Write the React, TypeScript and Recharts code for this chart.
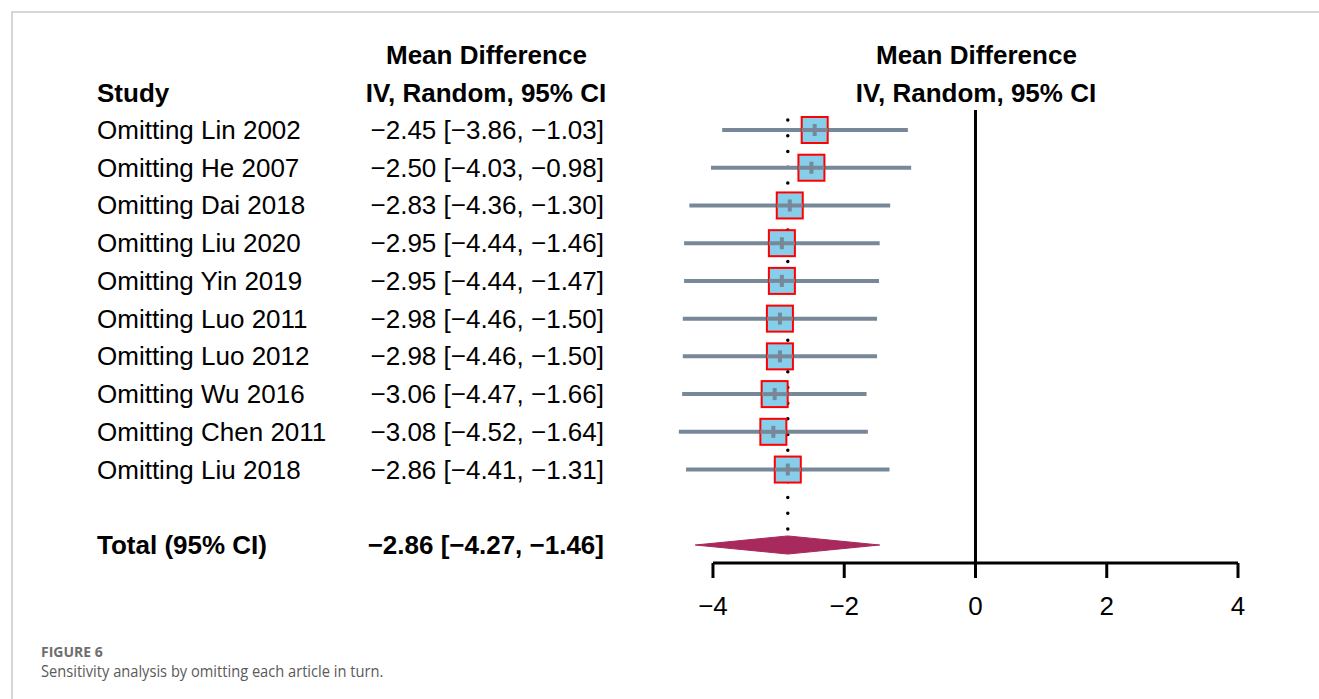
import React from 'react';
import {
  ComposedChart,
  Scatter,
  Area,
  ErrorBar,
  XAxis,
  YAxis,
  ReferenceLine,
} from 'recharts';

// ---- data ----
const studies = [
  'Omitting Lin 2002',
  'Omitting He 2007',
  'Omitting Dai 2018',
  'Omitting Liu 2020',
  'Omitting Yin 2019',
  'Omitting Luo 2011',
  'Omitting Luo 2012',
  'Omitting Wu 2016',
  'Omitting Chen 2011',
  'Omitting Liu 2018',
];
const means = [-2.45, -2.5, -2.83, -2.95, -2.95, -2.98, -2.98, -3.06, -3.08, -2.86];
const lowers = [-3.86, -4.03, -4.36, -4.44, -4.44, -4.46, -4.46, -4.47, -4.52, -4.41];
const uppers = [-1.03, -0.98, -1.3, -1.46, -1.47, -1.5, -1.5, -1.66, -1.64, -1.31];

const totalLabel = 'Total (95% CI)';
const totalMean = -2.86;
const totalLower = -4.27;
const totalUpper = -1.46;

const xTicks = [-4, -2, 0, 2, 4];
const headerTop = 'Mean Difference';
const headerBottom = 'IV, Random, 95% CI';
const studyHeader = 'Study';
const figureLabel = 'FIGURE 6';
const caption = 'Sensitivity analysis by omitting each article in turn.';

// ---- derived ----
const fmt = (v: number) => {
  const s = Math.abs(v).toFixed(2);
  return v < 0 ? '\u2212' + s : s;
};
const ciText = (m: number, l: number, u: number) => `${fmt(m)} [${fmt(l)}, ${fmt(u)}]`;

const totalRow = studies.length + 1;
const rows = studies.map((name, i) => ({
  row: i,
  name,
  mean: means[i],
  err: [means[i] - lowers[i], uppers[i] - means[i]],
  text: ciText(means[i], lowers[i], uppers[i]),
}));
const rowTicks = [...rows.map((r) => r.row), totalRow];
const labelFor = (row: number) => {
  if (row === totalRow) return { name: totalLabel, text: ciText(totalMean, totalLower, totalUpper), bold: true };
  const r = rows.find((d) => d.row === row);
  return r ? { name: r.name, text: r.text, bold: false } : { name: '', text: '', bold: false };
};

// diamond for the pooled estimate (half-height in row units)
const dh = 0.24;
const diamond = [
  { mean: totalLower, range: [totalRow, totalRow] },
  { mean: totalMean, range: [totalRow - dh, totalRow + dh] },
  { mean: totalUpper, range: [totalRow, totalRow] },
];

const xMin = -4.6; // plot area extends a little left of the first tick
const xMax = 4;
const yMin = -0.53;
const yMax = totalRow + 0.477;

const FONT = '"Liberation Sans", Arial, Helvetica, sans-serif';
const BOX = 26;

const BoxShape = (props: any) => {
  const { cx, cy } = props;
  if (cx == null || cy == null) return null;
  return (
    <rect x={cx - BOX / 2} y={cy - BOX / 2} width={BOX} height={BOX} fill="#87CEEB" stroke="#FF0000" strokeWidth={2} />
  );
};

// point-estimate tick, with the CI line continued across the box
const TickShape = (props: any) => {
  const { cx, cy } = props;
  if (cx == null || cy == null) return null;
  return (
    <g>
      <line x1={cx - BOX / 2} x2={cx + BOX / 2} y1={cy} y2={cy} stroke="#778899" strokeWidth={4} />
      <line x1={cx} x2={cx} y1={cy - 6} y2={cy + 6} stroke="#778899" strokeWidth={4} />
    </g>
  );
};

const RowTick = (props: any) => {
  const { y, payload } = props;
  const info = labelFor(payload.value);
  return (
    <g>
      <text
        x={97}
        y={y}
        dy={9}
        fontFamily={FONT}
        fontSize={26}
        fontWeight={info.bold ? 'bold' : 'normal'}
        fill="#000"
        textAnchor="start"
      >
        {info.name}
      </text>
      <text
        x={604}
        y={y}
        dy={9}
        fontFamily={FONT}
        fontSize={26}
        fontWeight={info.bold ? 'bold' : 'normal'}
        fill="#000"
        textAnchor="end"
      >
        {info.text}
      </text>
    </g>
  );
};

const headerStyle: React.CSSProperties = {
  position: 'absolute',
  fontFamily: FONT,
  fontSize: 26,
  fontWeight: 'bold',
  lineHeight: '30px',
  height: 30,
  whiteSpace: 'nowrap',
  color: '#000',
};

export default function App() {
  return (
    <div style={{ position: 'fixed', left: 0, top: 0, width: 1319, height: 699, background: '#fff', overflow: 'hidden' }}>
      <div
        style={{
          position: 'absolute',
          left: 11,
          top: 11,
          width: 1319,
          height: 720,
          borderTop: '2px solid #d6d6d6',
          borderLeft: '2px solid #d6d6d6',
        }}
      />
      <div style={{ position: 'absolute', left: 0, top: 0 }}>
        <ComposedChart
          width={1319}
          height={699}
          data={rows}
          margin={{ top: 110, right: 81, bottom: 76, left: 0 }}
        >
          <XAxis
            type="number"
            dataKey="mean"
            domain={[xMin, xMax]}
            ticks={xTicks}
            allowDataOverflow
            height={60}
            axisLine={false}
            tickLine={{ stroke: '#000', strokeWidth: 3 }}
            tickSize={15}
            tickMargin={19}
            tick={{ fill: '#000', fontSize: 26, fontFamily: FONT }}
            tickFormatter={(v: number) => (v < 0 ? '\u2212' + Math.abs(v) : String(v))}
          />
          <YAxis
            type="number"
            dataKey="row"
            domain={[yMin, yMax]}
            reversed
            ticks={rowTicks}
            interval={0}
            width={673.6}
            axisLine={false}
            tickLine={false}
            tick={<RowTick />}
            allowDataOverflow
          />
          <ReferenceLine x={0} stroke="#000" strokeWidth={3} zIndex={50} />
          <ReferenceLine
            segment={[
              { x: xTicks[0], y: yMax },
              { x: xTicks[xTicks.length - 1], y: yMax },
            ]}
            stroke="#000"
            strokeWidth={3}
            ifOverflow="visible"
          />
          <ReferenceLine
            segment={[
              { x: totalMean, y: -0.265 },
              { x: totalMean, y: totalRow - 0.39 },
            ]}
            stroke="#000"
            strokeWidth={3.5}
            strokeDasharray="0 15.73"
            strokeLinecap="round"
            zIndex={50}
          />
          <Area
            data={diamond}
            dataKey="range"
            type="linear"
            fill="#A8295C"
            fillOpacity={1}
            stroke="#A8295C"
            strokeWidth={1}
            dot={false}
            activeDot={false}
            isAnimationActive={false}
          />
          <Scatter data={rows} dataKey="row" shape={<BoxShape />} isAnimationActive={false} />
          <Scatter data={rows} dataKey="row" shape={<TickShape />} isAnimationActive={false}>
            <ErrorBar dataKey="err" direction="x" width={0} stroke="#778899" strokeWidth={4} />
          </Scatter>
        </ComposedChart>
      </div>
      <div style={{ ...headerStyle, left: 386, top: 40, width: 200, textAlign: 'center' }}>{headerTop}</div>
      <div style={{ ...headerStyle, left: 356, top: 78, width: 260, textAlign: 'center' }}>{headerBottom}</div>
      <div style={{ ...headerStyle, left: 97, top: 78 }}>{studyHeader}</div>
      <div style={{ ...headerStyle, left: 876, top: 40, width: 200, textAlign: 'center' }}>{headerTop}</div>
      <div style={{ ...headerStyle, left: 846, top: 78, width: 260, textAlign: 'center' }}>{headerBottom}</div>
      <div
        style={{
          position: 'absolute',
          left: 41,
          top: 645,
          fontFamily: '"Open Sans", sans-serif',
          fontSize: 14,
          fontWeight: 700,
          color: '#6e6e6e',
          lineHeight: '14px',
          whiteSpace: 'nowrap',
        }}
      >
        {figureLabel}
      </div>
      <div
        style={{
          position: 'absolute',
          left: 41,
          top: 661,
          fontFamily: '"Open Sans", sans-serif',
          fontSize: 17,
          color: '#5a5a5a',
          lineHeight: '19px',
          whiteSpace: 'nowrap',
          transform: 'scaleX(0.861)',
          transformOrigin: 'left center',
        }}
      >
        {caption}
      </div>
    </div>
  );
}
